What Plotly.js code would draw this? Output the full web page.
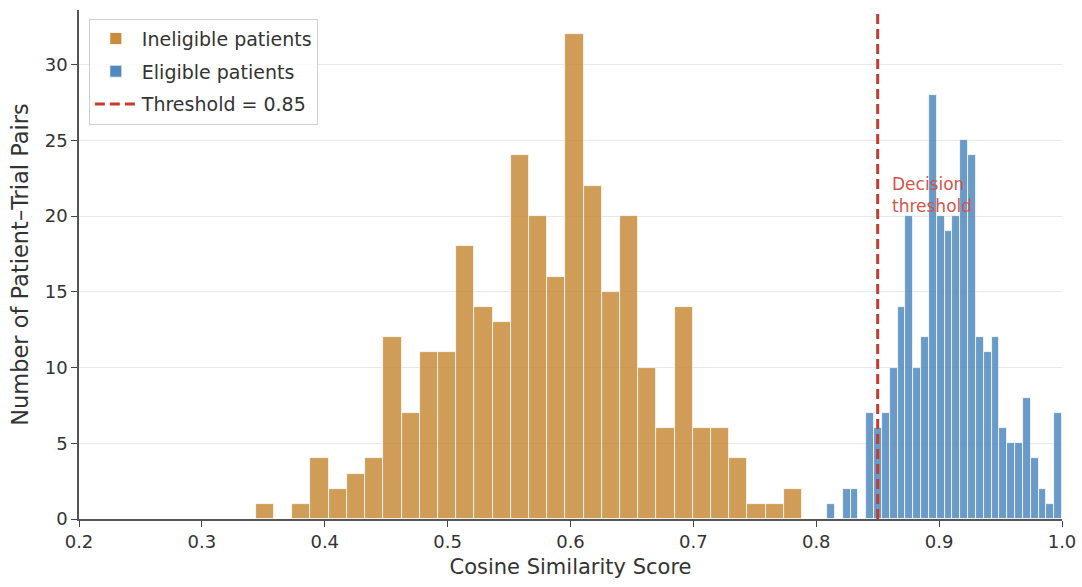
<!DOCTYPE html>
<html>
<head>
<meta charset="utf-8">
<script src="https://cdn.plot.ly/plotly-3.0.1.min.js"></script>
<style>
  html, body { margin: 0; padding: 0; background: #ffffff; }
  #chart { width: 1082px; height: 587px; }
</style>
</head>
<body>
<div id="chart"></div>
<script>
// Ineligible patients: 30 histogram bins
const ineligibleBinStart = 0.3439;
const ineligibleBinWidth = 0.01482;
const ineligibleCounts = [1, 0, 1, 4, 2, 3, 4, 12, 7, 11, 11, 18, 14, 13, 24, 20, 16, 32, 22, 15, 20, 10, 6, 14, 6, 6, 4, 1, 1, 2];

// Eligible patients: 30 histogram bins
const eligibleBinStart = 0.8088;
const eligibleBinWidth = 0.006373;
const eligibleCounts = [1, 0, 2, 2, 0, 7, 6, 7, 10, 14, 20, 10, 12, 28, 20, 19, 20, 25, 24, 12, 11, 12, 6, 5, 5, 8, 4, 2, 1, 7];

const threshold = 0.85;
const xTickVals = [0.2, 0.3, 0.4, 0.5, 0.6, 0.7, 0.8, 0.9, 1.0];
const xTickText = ["0.2", "0.3", "0.4", "0.5", "0.6", "0.7", "0.8", "0.9", "1.0"];
const yTickVals = [0, 5, 10, 15, 20, 25, 30];

const leftEdges = (start, width, n) => Array.from({length: n}, (_, i) => start + i * width);

const FONT = "DejaVu Sans, sans-serif";

const traces = [
  {
    type: "bar",
    name: "Ineligible patients",
    legendgroup: "a",
    x: leftEdges(ineligibleBinStart, ineligibleBinWidth, ineligibleCounts.length),
    y: ineligibleCounts,
    width: ineligibleBinWidth,
    offset: 0,
    marker: { color: "#C88C3B", opacity: 0.85, line: { color: "#ffffff", width: 0.8 } },
    hoverinfo: "x+y"
  },
  {
    type: "bar",
    name: "Eligible patients",
    legendgroup: "b",
    x: leftEdges(eligibleBinStart, eligibleBinWidth, eligibleCounts.length),
    y: eligibleCounts,
    width: eligibleBinWidth,
    offset: 0,
    marker: { color: "#5089BF", opacity: 0.85, line: { color: "#ffffff", width: 0.8 } },
    hoverinfo: "x+y"
  },
  {
    type: "scatter",
    mode: "lines",
    name: "Threshold = " + threshold,
    legendgroup: "c",
    x: [threshold, threshold],
    y: [0, 33.6],
    line: { color: "#C63A2F", width: 3, dash: "10px,5px" },
    hoverinfo: "skip"
  }
];

const layout = {
  width: 1082,
  height: 587,
  margin: { l: 79, r: 20, t: 10, b: 68 },
  paper_bgcolor: "#ffffff",
  plot_bgcolor: "#ffffff",
  barmode: "overlay",
  bargap: 0,
  font: { family: FONT, size: 18, color: "#333333" },
  showlegend: true,
  legend: {
    x: 0.01, y: 0.983, xanchor: "left", yanchor: "top",
    bgcolor: "rgba(255,255,255,0.85)",
    bordercolor: "#d0d0d0", borderwidth: 1,
    font: { family: FONT, size: 19, color: "#333333" },
    traceorder: "grouped",
    tracegroupgap: 5,
    itemwidth: 42
  },
  xaxis: {
    range: [0.2, 1.0],
    tickmode: "array",
    tickvals: xTickVals,
    ticktext: xTickText,
    ticks: "outside", ticklen: 6, tickwidth: 1.2, tickcolor: "#444444",
    showline: true, linecolor: "#555555", linewidth: 1.5,
    showgrid: false, zeroline: false,
    tickfont: { family: FONT, size: 18, color: "#333333" },
    title: { text: "Cosine Similarity Score", font: { family: FONT, size: 21, color: "#333333" }, standoff: 8 }
  },
  yaxis: {
    range: [0, 33.6],
    tickmode: "array",
    tickvals: yTickVals,
    ticks: "outside", ticklen: 6, tickwidth: 1.2, tickcolor: "#444444",
    showline: true, linecolor: "#555555", linewidth: 1.5,
    showgrid: true, gridcolor: "#e9e9e9", gridwidth: 1,
    zeroline: false,
    tickfont: { family: FONT, size: 18, color: "#333333" },
    title: { text: "Number of Patient–Trial Pairs", font: { family: FONT, size: 22.5, color: "#333333" }, standoff: 10 }
  },
  annotations: [
    {
      x: 0.86, y: 22.9, xref: "x", yref: "y",
      xanchor: "left", yanchor: "top",
      align: "left",
      showarrow: false,
      text: "Decision<br>threshold",
      font: { family: FONT, size: 17, color: "#D0564C" }
    }
  ]
};

Plotly.newPlot("chart", traces, layout, { displayModeBar: false, responsive: false });
</script>
</body>
</html>
